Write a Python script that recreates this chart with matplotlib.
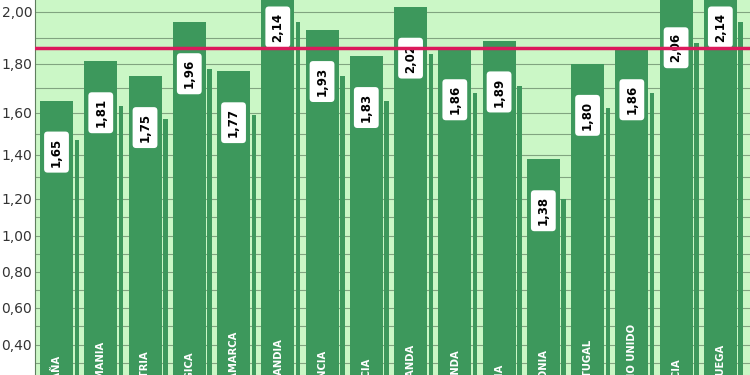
import numpy as np
import matplotlib
matplotlib.use("Agg")
import matplotlib.pyplot as plt
from matplotlib.ticker import FixedLocator, FuncFormatter

# ---- Data ----
countries = ["ESPAÑA", "ALEMANIA", "AUSTRIA", "BÉLGICA", "DINAMARCA", "FINLANDIA",
             "FRANCIA", "GRECIA", "HOLANDA", "IRLANDA", "ITALIA", "POLONIA",
             "PORTUGAL", "REINO UNIDO", "SUECIA", "NORUEGA"]
values = [1.65, 1.81, 1.75, 1.96, 1.77, 2.14, 1.93, 1.83,
          2.02, 1.86, 1.89, 1.38, 1.80, 1.86, 2.06, 2.14]
reference_value = 1.86
major_ticks = [0.2, 0.4, 0.6, 0.8, 1.0, 1.2, 1.4, 1.6, 1.8, 2.0]
minor_ticks = [0.3, 0.5, 0.7, 0.9, 1.1, 1.3, 1.5, 1.7, 1.9]

# the source image has an uneven vertical axis: calibrate it from the tick positions
axis_vals = np.array([0.0, 0.2, 0.4, 0.6, 0.8, 1.0, 1.2, 1.4, 1.6, 1.8, 2.0, 2.2, 2.4])
axis_px = np.array([417, 381, 345, 308, 272, 236, 199, 155, 113, 64, 12, -40, -92], dtype=float)

BAR_GREEN = "#3d985c"
BG_GREEN = "#cbf7c6"
LINE_RED = "#dc1a5c"


def forward(v):
    return -np.interp(v, axis_vals, axis_px)


def inverse(u):
    return np.interp(u, -axis_px, axis_vals)


def main():
    fig = plt.figure(figsize=(7.5, 3.75), dpi=100)
    ax = fig.add_axes([35 / 750, 0, 715 / 750, 1])
    ax.set_facecolor(BG_GREEN)
    ax.set_yscale("function", functions=(forward, inverse))

    x = np.arange(len(values))
    vals = np.array(values)

    # bars plus the faint "shadow" strokes beside each one
    ax.bar(x, vals, width=0.745, color=BAR_GREEN, zorder=2)
    ax.bar(x + 0.46, vals - 0.18, width=0.1, color=BAR_GREEN, zorder=2)

    ax.axhline(reference_value, color=LINE_RED, lw=2.5, zorder=6)

    for xi, v, name in zip(x, values, countries):
        ax.annotate(f"{v:.2f}".replace(".", ","), xy=(xi, v), xytext=(0, -37),
                    textcoords="offset points", ha="center", va="center",
                    rotation=90, fontsize=8.5, fontweight="bold", color="black",
                    bbox=dict(boxstyle="round,pad=0.5,rounding_size=0.3",
                              fc="white", ec="none"),
                    annotation_clip=False, zorder=5)
        ax.annotate(name, xy=(xi, -0.064), xycoords=("data", "axes fraction"),
                    ha="center", va="bottom", rotation=90, fontsize=7.2,
                    fontweight="bold", color="white", annotation_clip=False,
                    zorder=4)

    ax.set_xlim(-0.486, 15.67)
    ax.set_ylim(0.233, 2.046)

    ax.yaxis.set_major_locator(FixedLocator(major_ticks))
    ax.yaxis.set_minor_locator(FixedLocator(minor_ticks))
    ax.yaxis.set_major_formatter(FuncFormatter(lambda v, p: f"{v:.2f}".replace(".", ",")))
    ax.yaxis.set_minor_formatter(FuncFormatter(lambda v, p: ""))
    ax.tick_params(axis="y", which="both", length=0, pad=2, labelsize=10, labelcolor="#333333")
    ax.set_xticks([])

    ax.grid(True, axis="y", which="both", color="#6f8f6f", lw=0.8, alpha=0.8)
    ax.set_axisbelow(True)

    for side in ["top", "right", "bottom"]:
        ax.spines[side].set_visible(False)
    ax.spines["left"].set_color("#5f7f5f")
    ax.spines["left"].set_linewidth(0.8)

    fig.savefig("out.png", dpi=100)


if __name__ == "__main__":
    main()
